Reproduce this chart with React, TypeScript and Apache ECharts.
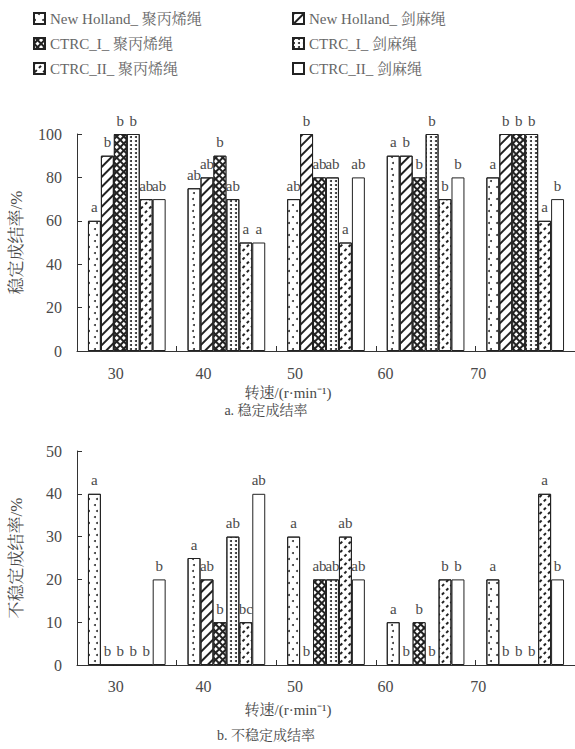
import React, { useEffect, useRef } from "react";
import * as echarts from "echarts";

const categories = ["30", "40", "50", "60", "70"];
const seriesNames = [
  "New Holland_ 聚丙烯绳",
  "New Holland_ 剑麻绳",
  "CTRC_I_ 聚丙烯绳",
  "CTRC_I_ 剑麻绳",
  "CTRC_II_ 聚丙烯绳",
  "CTRC_II_ 剑麻绳",
];

// a. 稳定成结率 (%)
const stableNhPP = [60, 75, 70, 90, 80];
const stableNhSisal = [90, 80, 100, 90, 100];
const stableC1PP = [100, 90, 80, 80, 100];
const stableC1Sisal = [100, 70, 80, 100, 100];
const stableC2PP = [70, 50, 50, 70, 60];
const stableC2Sisal = [70, 50, 80, 80, 70];

const stableLettersNhPP = ["a", "ab", "ab", "a", "a"];
const stableLettersNhSisal = ["b", "ab", "b", "b", "b"];
const stableLettersC1PP = ["b", "b", "ab", "b", "b"];
const stableLettersC1Sisal = ["b", "ab", "ab", "b", "b"];
const stableLettersC2PP = ["ab", "a", "a", "b", "a"];
const stableLettersC2Sisal = ["ab", "a", "ab", "b", "b"];

// b. 不稳定成结率 (%)
const unstableNhPP = [40, 25, 30, 10, 20];
const unstableNhSisal = [0, 20, 0, 0, 0];
const unstableC1PP = [0, 10, 20, 10, 0];
const unstableC1Sisal = [0, 30, 20, 0, 0];
const unstableC2PP = [0, 10, 30, 20, 40];
const unstableC2Sisal = [20, 40, 20, 20, 20];

const unstableLettersNhPP = ["a", "a", "a", "a", "a"];
const unstableLettersNhSisal = ["b", "ab", "b", "b", "b"];
const unstableLettersC1PP = ["b", "b", "ab", "b", "b"];
const unstableLettersC1Sisal = ["b", "ab", "ab", "b", "b"];
const unstableLettersC2PP = ["b", "bc", "ab", "b", "a"];
const unstableLettersC2Sisal = ["b", "ab", "ab", "b", "b"];

const yTop = { min: 0, max: 100, interval: 20 };
const yBottom = { min: 0, max: 50, interval: 10 };

const FONT = "Liberation Serif, 'Noto Serif CJK SC', 'Noto Sans CJK SC', serif";
const TEXT = "#4a4a4a";
const LINE = "#333";

const decals: any[] = [
  {
    symbol: "circle",
    symbolSize: 1,
    color: "#333",
    dashArrayX: [
      [1.3, 5.5],
      [0, 3.4, 1.3, 2.1],
    ],
    dashArrayY: [1.3, 4],
  },
  {
    symbol: "rect",
    symbolSize: 1,
    color: "#222",
    dashArrayX: [1, 0],
    dashArrayY: [1.2, 5],
    rotation: -Math.PI / 4,
  },
  {
    symbol: "rect",
    symbolSize: 1,
    color: "#fff",
    dashArrayX: [2.3, 1.1],
    dashArrayY: [2.3, 1.1],
    rotation: Math.PI / 4,
  },
  {
    symbol: "circle",
    symbolSize: 1,
    color: "#222",
    dashArrayX: [1.2, 2.6],
    dashArrayY: [1.2, 2],
  },
  {
    symbol: "rect",
    symbolSize: 1,
    color: "#222",
    dashArrayX: [2.6, 3],
    dashArrayY: [1.1, 3.4],
    rotation: -Math.PI / 4,
  },
  null,
];
const fills = ["#fff", "#fff", "#222", "#fff", "#fff", "#fff"];

const stableData = [stableNhPP, stableNhSisal, stableC1PP, stableC1Sisal, stableC2PP, stableC2Sisal];
const stableLetters = [
  stableLettersNhPP,
  stableLettersNhSisal,
  stableLettersC1PP,
  stableLettersC1Sisal,
  stableLettersC2PP,
  stableLettersC2Sisal,
];
const unstableData = [unstableNhPP, unstableNhSisal, unstableC1PP, unstableC1Sisal, unstableC2PP, unstableC2Sisal];
const unstableLetters = [
  unstableLettersNhPP,
  unstableLettersNhSisal,
  unstableLettersC1PP,
  unstableLettersC1Sisal,
  unstableLettersC2PP,
  unstableLettersC2Sisal,
];

const labelShift = [22, 46, 62, 80, 94];

function makeSeries(idx: number, values: number[], letters: string[], axisIndex: number) {
  const itemStyle: any = { color: fills[idx], borderColor: "#222", borderWidth: 1 };
  if (decals[idx]) itemStyle.decal = decals[idx];
  return {
    type: "bar",
    name: seriesNames[idx],
    xAxisIndex: axisIndex,
    yAxisIndex: axisIndex,
    data: values,
    barGap: "0%",
    barCategoryGap: "22%",
    itemStyle,
    label: {
      show: true,
      position: "top",
      distance: 6,
      color: TEXT,
      fontFamily: FONT,
      fontSize: 15,
      formatter: (p: any) => letters[p.dataIndex],
    },
  };
}

function xAxisCfg(gridIndex: number, gap: number, labelMargin: number) {
  const rich: any = {};
  labelShift.forEach((s, i) => {
    rich["o" + i] = { padding: [0, s, 0, 0], fontFamily: FONT, fontSize: 16, color: TEXT };
  });
  return {
    type: "category",
    gridIndex,
    data: categories,
    name: "转速/(r·min⁻¹)",
    nameLocation: "middle",
    nameGap: gap,
    nameTextStyle: { fontFamily: FONT, fontSize: 15, color: TEXT, padding: [0, 76, 0, 0] },
    axisLine: { lineStyle: { color: LINE, width: 1 } },
    axisTick: { show: true, inside: true, length: 5, alignWithLabel: false, lineStyle: { color: LINE } },
    axisLabel: {
      margin: labelMargin,
      formatter: (v: string, i: number) => `{o${i}|${v}}`,
      rich,
    },
  };
}

function yAxisCfg(gridIndex: number, range: any, name: string) {
  return {
    type: "value",
    gridIndex,
    min: range.min,
    max: range.max,
    interval: range.interval,
    name,
    nameLocation: "middle",
    nameGap: 52,
    nameRotate: 90,
    nameTextStyle: { fontFamily: FONT, fontSize: 17, color: TEXT },
    splitLine: { show: false },
    axisLine: { show: true, lineStyle: { color: LINE, width: 1 } },
    axisTick: { show: true, inside: true, length: 5, lineStyle: { color: LINE } },
    axisLabel: { margin: 15, fontFamily: FONT, fontSize: 16, color: TEXT },
  };
}

export default function App() {
  const ref = useRef<HTMLDivElement>(null);
  useEffect(() => {
    if (!ref.current) return;
    const chart = echarts.init(ref.current, null, { renderer: "svg" });
    const series: any[] = [];
    for (let i = 0; i < 6; i++) series.push(makeSeries(i, stableData[i], stableLetters[i], 0));
    for (let i = 0; i < 6; i++) series.push(makeSeries(i, unstableData[i], unstableLetters[i], 1));
    const legendBase = {
      orient: "vertical",
      top: 6,
      itemWidth: 11,
      itemHeight: 11,
      itemGap: 10,
      icon: "rect",
      selectedMode: false,
      textStyle: { fontFamily: FONT, fontSize: 15, color: "#666" },
    };
    chart.setOption({
      animation: false,
      backgroundColor: "#fff",
      legend: [
        { ...legendBase, left: 28, data: [seriesNames[0], seriesNames[2], seriesNames[4]] },
        { ...legendBase, left: 287, data: [seriesNames[1], seriesNames[3], seriesNames[5]] },
      ],
      grid: [
        { left: 76, top: 134, width: 500, height: 217 },
        { left: 76, top: 451, width: 500, height: 214 },
      ],
      xAxis: [xAxisCfg(0, 34, 14), xAxisCfg(1, 37, 13)],
      yAxis: [yAxisCfg(0, yTop, "稳定成结率/%"), yAxisCfg(1, yBottom, "不稳定成结率/%")],
      series,
      graphic: [
        {
          type: "text",
          x: 266,
          y: 410,
          style: { text: "a. 稳定成结率", fontFamily: FONT, fontSize: 14, fill: TEXT, align: "center", verticalAlign: "middle" },
        },
        {
          type: "text",
          x: 266,
          y: 735,
          style: { text: "b. 不稳定成结率", fontFamily: FONT, fontSize: 14, fill: TEXT, align: "center", verticalAlign: "middle" },
        },
      ],
    });
    return () => chart.dispose();
  }, []);
  return (
    <div
      ref={ref}
      style={{ position: "absolute", left: 0, top: 0, width: 575, height: 749, background: "#fff" }}
    />
  );
}
